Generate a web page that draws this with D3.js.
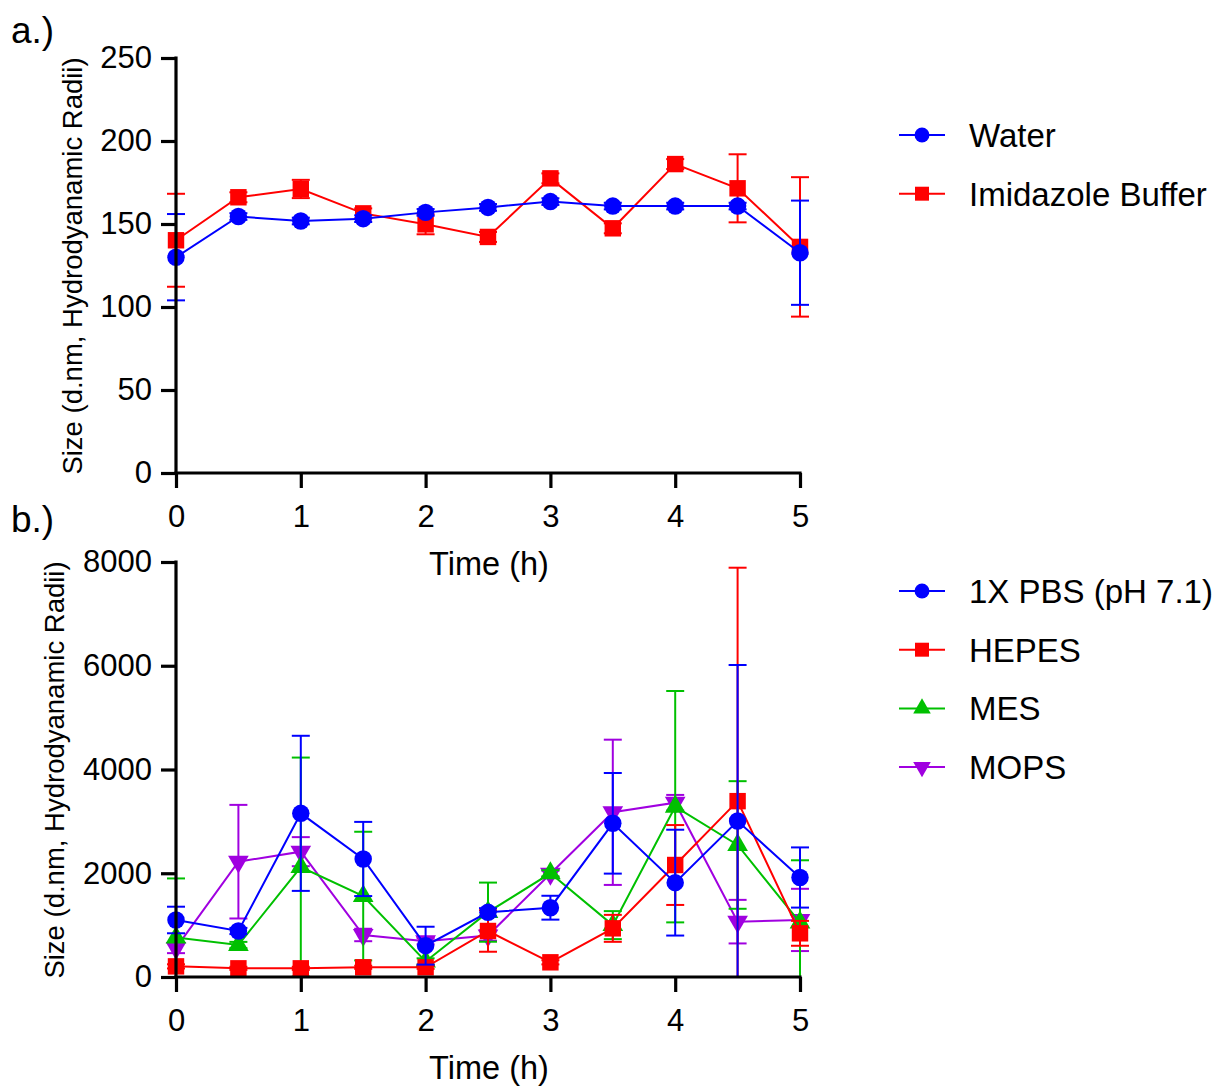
<!DOCTYPE html>
<html>
<head>
<meta charset="utf-8">
<script src="https://cdn.jsdelivr.net/npm/d3@7"></script>
<style>
  html, body { margin: 0; padding: 0; background: #fff; }
  svg { display: block; font-family: "Liberation Sans", Arial, sans-serif; }
</style>
</head>
<body>
<svg id="chart" width="1219" height="1087"></svg>
<script>
// Sampling times (hours)
const times = [0, 0.5, 1, 1.5, 2, 2.5, 3, 3.5, 4, 4.5, 5];
const xTicks = [0, 1, 2, 3, 4, 5];

// Panel a: particle size in water vs imidazole buffer (mean, SD)
const waterMean = [130, 154.5, 151.8, 153.2, 157, 160, 163.5, 160.8, 160.8, 160.8, 132.7];
const waterSD   = [26, 2, 2, 2, 2, 2, 2, 2, 2, 2, 31.4];
const imidMean  = [140.2, 166.1, 171.1, 156.4, 149.8, 142.2, 177.5, 147.4, 186.1, 171.5, 136.2];
const imidSD    = [28, 3, 5.5, 3, 6, 3, 3, 3, 3, 20.5, 42];
const aYTicks   = [0, 50, 100, 150, 200, 250];

// Panel b: particle size in other buffers (mean, SD)
const pbsMean   = [1099, 887, 3155, 2275, 604, 1247, 1336, 2963, 1819, 3007, 1918];
const pbsSD     = [256, 60, 1495, 715, 365, 80, 230, 970, 1020, 3007, 580];
const hepesMean = [205, 167, 167, 187, 187, 887, 283, 938, 2159, 3390, 842];
const hepesSD   = [40, 30, 30, 30, 30, 400, 40, 260, 770, 4500, 240];
const mesMean   = [760, 617, 2120, 1560, 300, 1250, 1999, 1000, 3283, 2545, 1050];
const mesSD     = [1140, 60, 2110, 1240, 60, 570, 60, 270, 2230, 1230, 1200];
const mopsMean  = [560, 2223, 2416, 810, 690, 800, 1990, 3175, 3360, 1067, 1100];
const mopsSD    = [100, 1095, 280, 120, 60, 100, 60, 1400, 150, 420, 600];
const bYTicks   = [0, 2000, 4000, 6000, 8000];

const svg = d3.select("#chart");
const FONT_TICK = 31, FONT_TITLE = 32.5, FONT_YTITLE = 27.5, FONT_LEG = 33;

function symbolPath(kind) {
  if (kind === "circle") return d3.symbol(d3.symbolCircle, 240)();
  if (kind === "square") return d3.symbol(d3.symbolSquare, 270)();
  return d3.symbol(d3.symbolTriangle, 185)();
}

function drawMarker(g, kind, color, x, y, scale) {
  return g.append("path").attr("d", symbolPath(kind)).attr("fill", color)
    .attr("transform", `translate(${x},${y})` + (kind === "triDown" ? " rotate(180)" : "") +
      (scale ? ` scale(${scale})` : ""));
}

function drawPanel(cfg) {
  const x = d3.scaleLinear().domain([0, 5]).range([176, 800]);
  const y = d3.scaleLinear().domain([0, cfg.yMax]).range([cfg.bottom, cfg.bottom - 415]);
  const g = svg.append("g");

  // series: draw last first so the first series sits in front
  const series = cfg.series.slice().reverse();
  series.forEach(s => {
    const sg = g.append("g");
    // error bars (mean ± SD, clipped at zero)
    times.forEach((t, i) => {
      const cx = x(t);
      const hi = y(s.mean[i] + s.sd[i]);
      const lo = y(Math.max(0, s.mean[i] - s.sd[i]));
      sg.append("line").attr("x1", cx).attr("x2", cx).attr("y1", hi).attr("y2", lo)
        .attr("stroke", s.color).attr("stroke-width", 2);
      sg.append("line").attr("x1", cx - 9).attr("x2", cx + 9).attr("y1", hi).attr("y2", hi)
        .attr("stroke", s.color).attr("stroke-width", 2);
      if (s.mean[i] - s.sd[i] > 0) {
        sg.append("line").attr("x1", cx - 9).attr("x2", cx + 9).attr("y1", lo).attr("y2", lo)
          .attr("stroke", s.color).attr("stroke-width", 2);
      }
    });
    // connecting line
    const line = d3.line().x((d, i) => x(times[i])).y(d => y(d));
    sg.append("path").datum(s.mean).attr("d", line).attr("fill", "none")
      .attr("stroke", s.color).attr("stroke-width", 2);
    // markers
    s.mean.forEach((v, i) => drawMarker(sg, s.shape, s.color, x(times[i]), y(v)));
  });

  // axes
  const fmt = d3.format("d");
  const yAxis = d3.axisLeft(y).tickValues(cfg.yTicks).tickFormat(fmt).tickSize(15).tickPadding(9);
  const xAxis = d3.axisBottom(x).tickValues(xTicks).tickFormat(fmt).tickSize(15).tickPadding(17);
  const ya = g.append("g").attr("transform", "translate(176,0)").call(yAxis);
  const xa = g.append("g").attr("transform", `translate(0,${cfg.bottom})`).call(xAxis);
  ya.select(".domain").attr("d", `M0,${cfg.bottom - 415}V${cfg.bottom}`);
  xa.select(".domain").attr("d", "M176,0H800");
  [ya, xa].forEach(a => {
    a.select(".domain").attr("stroke", "#000").attr("stroke-width", 3.2).attr("stroke-linecap", "square");
    a.selectAll(".tick line").attr("stroke", "#000").attr("stroke-width", 3.2);
    a.selectAll(".tick text").attr("fill", "#000").style("font-size", FONT_TICK + "px")
      .style("font-family", "Liberation Sans, Arial, sans-serif");
  });

  // titles
  g.append("text").attr("x", 489).attr("y", cfg.bottom + 102).attr("text-anchor", "middle")
    .style("font-size", FONT_TITLE + "px").text("Time (h)");
  g.append("text").attr("transform", `translate(${cfg.yTitleX},${cfg.bottom - 207}) rotate(-90)`)
    .attr("text-anchor", "middle").style("font-size", FONT_YTITLE + "px")
    .text("Size (d.nm, Hydrodyanamic Radii)");
  g.append("text").attr("x", 11).attr("y", cfg.tagY).style("font-size", "37px").text(cfg.tag);

  // legend
  cfg.series.forEach((s, i) => {
    const ly = cfg.legendTop + i * 58.7;
    g.append("line").attr("x1", 899).attr("x2", 945).attr("y1", ly).attr("y2", ly)
      .attr("stroke", s.color).attr("stroke-width", 2);
    drawMarker(g, s.shape, s.color, 922, ly, 0.85);
    g.append("text").attr("x", 969).attr("y", ly).attr("dy", "0.36em")
      .style("font-size", FONT_LEG + "px").text(s.name);
  });
}

drawPanel({
  bottom: 473, yMax: 250, yTicks: aYTicks, yTitleX: 82, tag: "a.)", tagY: 43, legendTop: 135,
  series: [
    { name: "Water", mean: waterMean, sd: waterSD, color: "#0000ff", shape: "circle" },
    { name: "Imidazole Buffer", mean: imidMean, sd: imidSD, color: "#ff0000", shape: "square" }
  ]
});

drawPanel({
  bottom: 977, yMax: 8000, yTicks: bYTicks, yTitleX: 64, tag: "b.)", tagY: 532, legendTop: 591,
  series: [
    { name: "1X PBS (pH 7.1)", mean: pbsMean, sd: pbsSD, color: "#0000ff", shape: "circle" },
    { name: "HEPES", mean: hepesMean, sd: hepesSD, color: "#ff0000", shape: "square" },
    { name: "MES", mean: mesMean, sd: mesSD, color: "#00c000", shape: "triUp" },
    { name: "MOPS", mean: mopsMean, sd: mopsSD, color: "#a000e0", shape: "triDown" }
  ]
});
</script>
</body>
</html>
